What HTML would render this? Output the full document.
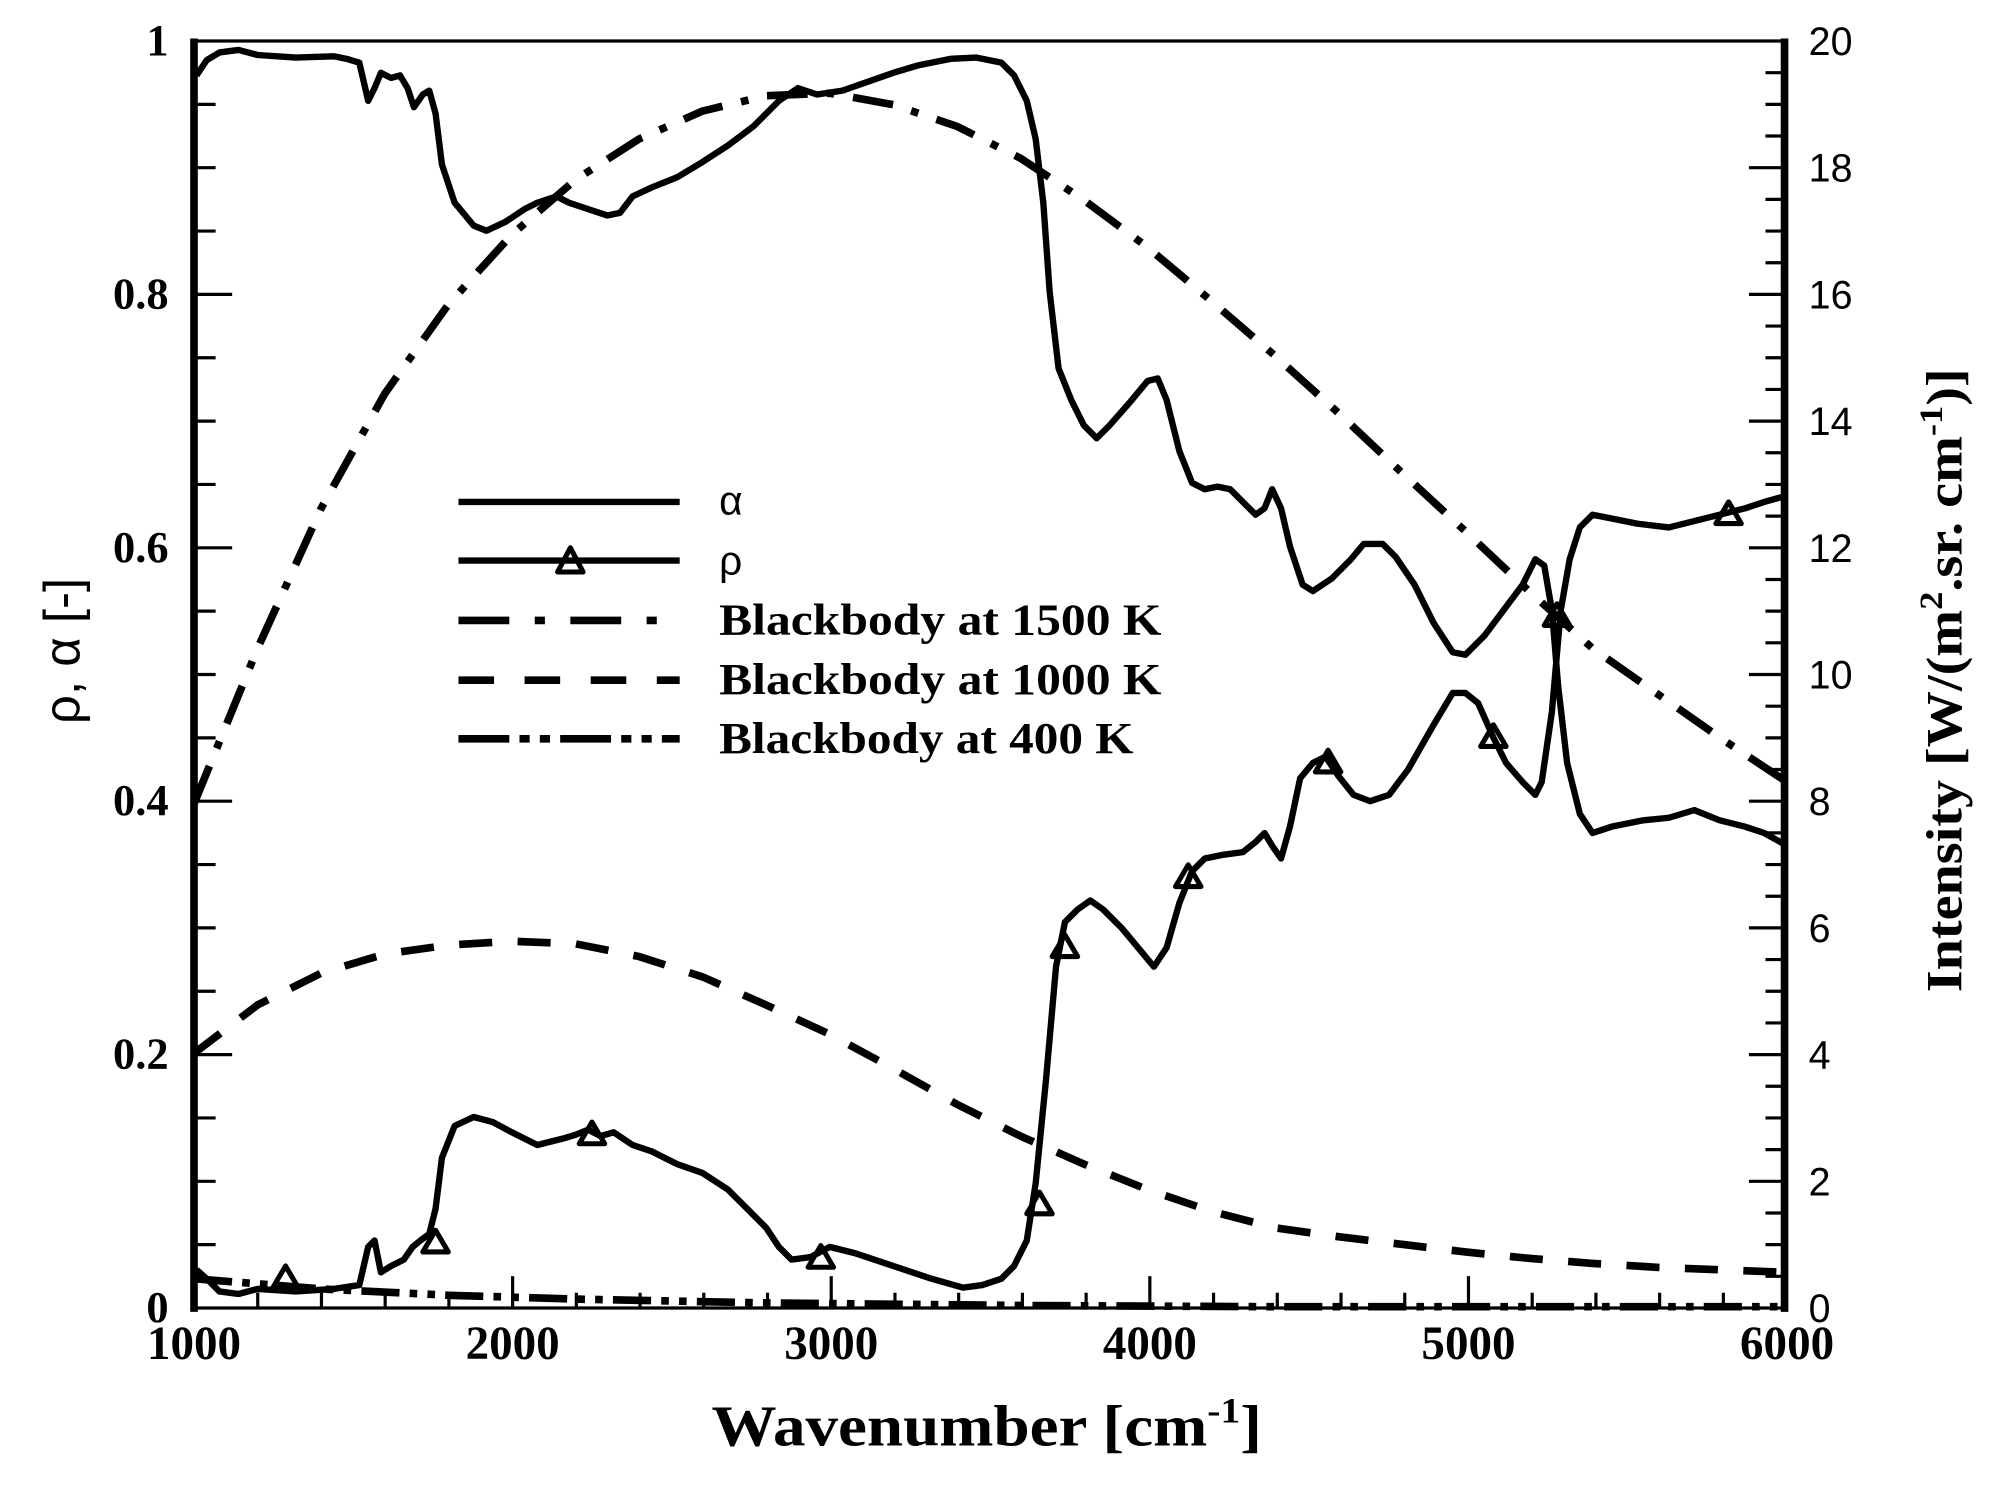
<!DOCTYPE html>
<html><head><meta charset="utf-8"><style>html,body{margin:0;padding:0;background:#fff}svg{display:block}</style></head>
<body>
<svg width="1997" height="1485" viewBox="-2.59 0.8 1570.7 1166.2" preserveAspectRatio="none" xmlns="http://www.w3.org/2000/svg">
<rect x="-10" y="-10" width="1600" height="1200" fill="#fff"/>
<g fill="none" stroke="#000" stroke-linejoin="round" stroke-linecap="butt">
<polyline stroke-width="6" stroke-dasharray="30 8 6 8 6 8" points="150,1005 250,1013 350,1018 450,1021 600,1024 800,1026 1000,1027 1403,1027"/>
<polyline stroke-width="6" stroke-dasharray="26 20" points="150,828 200,790 250,765 300,750 350,743 400,740 450,742 500,752 550,768 600,790 650,813 700,840 750,868 800,893 850,915 900,935 950,952 1000,965 1050,972 1100,978 1150,984 1200,989 1250,993 1300,996 1350,998 1403,1000"/>
<polyline stroke-width="6" stroke-dasharray="32 15 6 15" points="150,632 200,510 250,400 300,310 350,240 400,185 450,142 500,110 550,88 600,76 650,74 700,83 750,100 800,125 850,158 900,195 950,237 1000,280 1050,325 1100,372 1150,418 1200,465 1250,510 1300,545 1350,580 1403,615"/>
<polyline stroke-width="5" points="152,60 160,48 170,42 185,40 200,44 230,46 260,45 270,47 280,50 287,80 292,70 297,58 305,62 312,60 318,70 323,85 330,75 335,72 340,90 345,130 355,160 370,178 380,182 395,175 410,165 420,160 435,155 445,160 460,165 475,170 485,168 495,155 510,148 530,140 550,128 570,115 590,100 610,80 625,70 640,75 660,72 680,65 700,58 720,52 745,47 765,46 785,50 795,60 805,80 812,110 818,160 823,230 830,290 840,315 850,335 860,345 870,335 885,318 900,300 908,298 915,315 925,355 935,380 945,385 955,383 965,385 975,395 985,405 992,400 998,385 1005,400 1012,430 1022,460 1030,465 1045,455 1060,440 1070,428 1085,428 1095,438 1110,460 1125,490 1140,513 1150,515 1165,500 1180,480 1195,460 1205,440 1212,445 1218,480 1223,540 1230,600 1240,640 1250,655 1265,650 1290,645 1310,643 1330,637 1350,645 1370,650 1385,655 1403,665"/>
<polyline stroke-width="5" points="152,998 160,1005 170,1015 185,1017 200,1013 230,1015 260,1013 280,1010 287,980 292,975 297,1000 305,995 315,990 322,980 328,975 335,970 340,950 345,910 355,885 370,878 385,882 400,890 420,900 440,895 450,892 460,888 470,893 480,890 495,900 510,905 530,915 550,922 570,935 585,950 600,965 610,980 620,990 635,988 650,980 670,985 700,995 730,1005 755,1012 770,1010 785,1005 795,995 805,975 812,930 820,850 828,760 835,725 845,715 855,708 865,715 880,730 895,748 905,760 915,745 925,710 935,685 945,675 960,672 975,670 985,662 992,655 998,665 1005,675 1012,650 1020,612 1030,600 1040,595 1050,610 1062,625 1075,630 1090,625 1105,605 1125,570 1140,545 1150,545 1160,553 1172,580 1182,600 1195,615 1205,625 1210,615 1218,560 1225,480 1232,440 1240,415 1250,405 1265,408 1285,412 1310,415 1330,410 1350,405 1370,400 1385,395 1403,390"/>
<g stroke-width="4">
<path d="M212,1012 L222,995 L232,1012 Z"/><path d="M330,984 L340,967 L350,984 Z"/><path d="M453,899 L463,882 L473,899 Z"/><path d="M633,996 L643,979 L653,996 Z"/><path d="M805,954 L815,937 L825,954 Z"/><path d="M825,752 L835,735 L845,752 Z"/><path d="M922,697 L932,680 L942,697 Z"/><path d="M1032,607 L1042,590 L1052,607 Z"/><path d="M1162,587 L1172,570 L1182,587 Z"/><path d="M1212,492 L1222,475 L1232,492 Z"/><path d="M1347,412 L1357,395 L1367,412 Z"/>
</g>
<line x1="358" y1="395" x2="532" y2="395" stroke-width="5"/>
<line x1="358" y1="441" x2="532" y2="441" stroke-width="5"/>
<path d="M436,450 L446,431 L456,450 Z" stroke-width="4"/>
<line x1="358" y1="488" x2="532" y2="488" stroke-width="6" stroke-dasharray="40 20 8 20"/>
<line x1="358" y1="535" x2="532" y2="535" stroke-width="6" stroke-dasharray="28 24"/>
<line x1="358" y1="581" x2="532" y2="581" stroke-width="6" stroke-dasharray="40 8 8 8 8 8"/>
<line x1="150" y1="33" x2="1403" y2="33" stroke-width="2.5"/>
<line x1="150" y1="1028" x2="1403" y2="1028" stroke-width="2.5"/>
<line x1="150" y1="31" x2="150" y2="1031" stroke-width="6"/>
<line x1="1401" y1="31" x2="1401" y2="1031" stroke-width="6"/>
</g>
<g stroke="#000" stroke-width="2.5" id="ticks"></g>
<g font-family="Liberation Serif, serif" font-weight="bold" font-size="35" text-anchor="end" id="lt"></g>
<g font-family="Liberation Sans, sans-serif" font-size="31" text-anchor="start" id="rt"></g>
<g font-family="Liberation Serif, serif" font-weight="bold" font-size="37" text-anchor="middle" id="bt"></g>
<g font-family="Liberation Serif, serif" font-weight="bold" font-size="35">
<text x="563" y="405" font-family="Liberation Sans, sans-serif" font-weight="normal" font-size="32">α</text>
<text x="563" y="452" font-family="Liberation Sans, sans-serif" font-weight="normal" font-size="32">ρ</text>
<text x="563" y="499" textLength="348" lengthAdjust="spacingAndGlyphs">Blackbody at 1500 K</text>
<text x="563" y="546" textLength="348" lengthAdjust="spacingAndGlyphs">Blackbody at 1000 K</text>
<text x="563" y="592" textLength="326" lengthAdjust="spacingAndGlyphs">Blackbody at 400 K</text>
</g>
<text x="557" y="1136" font-family="Liberation Serif, serif" font-weight="bold" font-size="46" textLength="433" lengthAdjust="spacingAndGlyphs">Wavenumber [cm<tspan font-size="28" dy="-18">-1</tspan><tspan dy="18">]</tspan></text>
<text transform="translate(60,512) rotate(-90)" font-family="Liberation Sans, sans-serif" font-size="40" text-anchor="middle">ρ, α  [-]</text>
<text transform="translate(1540,535) rotate(-90)" font-family="Liberation Serif, serif" font-weight="bold" font-size="40" text-anchor="middle" textLength="490" lengthAdjust="spacingAndGlyphs">Intensity [W/(m<tspan font-size="26" dy="-15">2</tspan><tspan dy="15">.sr. cm</tspan><tspan font-size="26" dy="-15">-1</tspan><tspan dy="15">)]</tspan></text>
<script>
var ns="http://www.w3.org/2000/svg";
function el(p,t,a,txt){var e=document.createElementNS(ns,t);for(var k in a)e.setAttribute(k,a[k]);if(txt!=null)e.textContent=txt;document.getElementById(p).appendChild(e);}
var L=150,R=1403,T=33,B=1028;
for(var i=1;i<20;i++){var y=B-(B-T)*i/20;var maj=i%4==0;el("ticks","line",{x1:L,y1:y,x2:L+(maj?30:17),y2:y});}
for(var i=0;i<=5;i++){var y=B-(B-T)*i/5;el("lt","text",{x:130,y:y+11},i==0?"0":i==5?"1":(i*0.2).toFixed(1));}
for(var i=1;i<40;i++){var y=B-(B-T)*i/40;var maj=i%4==0;el("ticks","line",{x1:R,y1:y,x2:R-(maj?30:17),y2:y});}
for(var i=0;i<=10;i++){var y=B-(B-T)*i/10;el("rt","text",{x:1420,y:y+11},String(i*2));}
for(var i=1;i<25;i++){var x=L+(R-L)*i/25;var maj=i%5==0;el("ticks","line",{x1:x,y1:B,x2:x,y2:B-(maj?25:12)});}
for(var i=0;i<=5;i++){var x=L+(R-L)*i/5;el("bt","text",{x:x,y:1068},String(1000+i*1000));}
</script>
</svg>
</body></html>
